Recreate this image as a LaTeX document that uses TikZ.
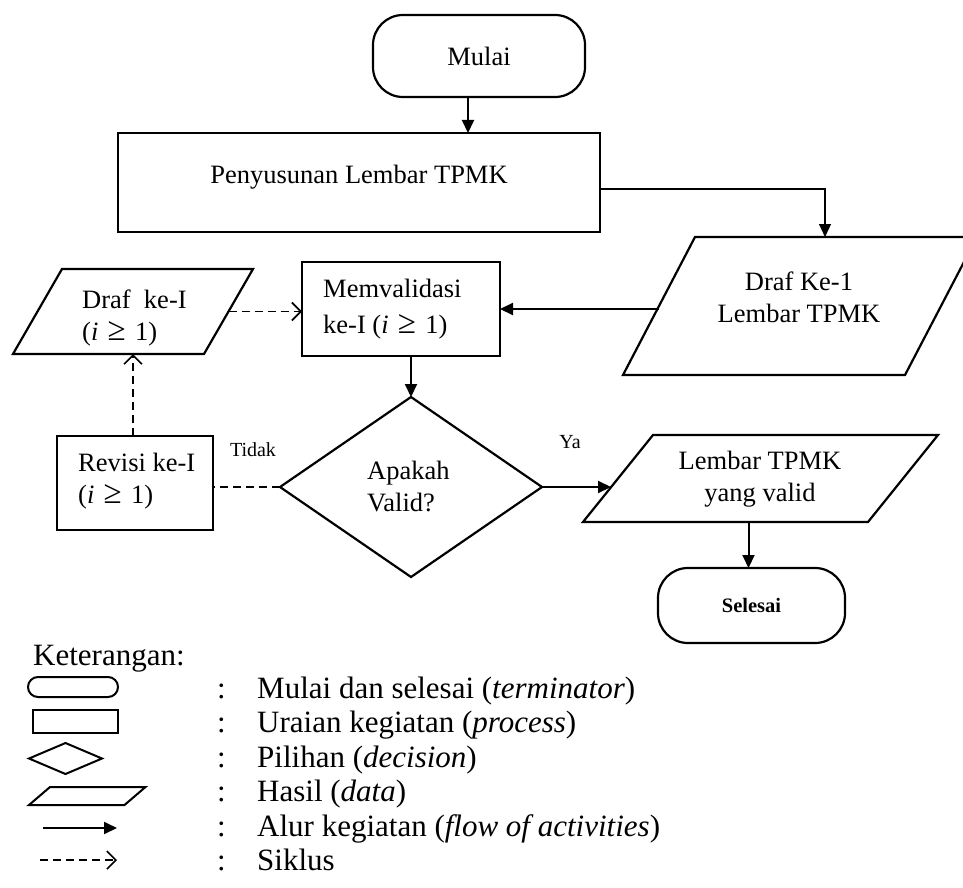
\documentclass[tikz,border=0pt]{standalone}
\usepackage{fontspec}
\setmainfont{Liberation Serif}
\usetikzlibrary{shapes.geometric,arrows.meta,calc}

% text sizes (1 unit = 1pt)
\newcommand\diagfont{\fontsize{26.5}{32}\selectfont}
\newcommand\legendfont{\fontsize{31}{35}\selectfont}
\newcommand\tagfont{\fontsize{20}{24}\selectfont}
% "(i >= 1)" with the wider spacing and larger relation sign of the equation font
\newcommand\atleastone{(\textit{i}\hspace{0.35em}{\fontsize{33}{33}\selectfont ≥}\hspace{0.35em}1)}

% slanted data box drawn around a helper rectangle node:
% #2 = node name, #3 = half of the horizontal slant
\newcommand\datashape[3][]{%
  \draw[shapeline,#1] ([xshift=-#3]#2.south west) -- ([xshift=-#3]#2.south east)
    -- ([xshift=#3]#2.north east) -- ([xshift=#3]#2.north west) -- cycle;}

\begin{document}
\begin{tikzpicture}[x=1pt,y=-1pt,
  shapeline/.style={line width=2.2pt, line join=miter},
  term/.style={draw, shapeline, rectangle, rounded corners=30pt, inner sep=0pt, outer sep=0pt},
  proc/.style={draw, shapeline, rectangle, inner sep=0pt, outer sep=0pt},
  dbox/.style={rectangle, inner sep=0pt, outer sep=0pt},
  decision/.style={draw, shapeline, diamond, inner sep=0pt, outer sep=0pt},
  txt/.style={inner sep=0pt, font=\diagfont, align=left},
  tag/.style={inner sep=0pt, font=\tagfont},
  keytxt/.style={inner sep=0pt, font=\legendfont, anchor=base west},
  flow/.style={line width=2pt, -{Triangle[length=13pt,width=12pt]}},
  cycleflow/.style={line width=1.6pt, dash pattern=on 8pt off 5pt},
  cyclearrow/.style={cycleflow, -{Straight Barb[length=9pt,width=18pt,line width=1.6pt]}},
]
\useasboundingbox[fill=white] (0,0) rectangle (963,888);
\clip (0,0) rectangle (963,888);

% ---- flowchart shapes ----
\node[term, minimum width=212pt, minimum height=82pt, font=\diagfont] (start) at (479,56) {Mulai};
\node[proc, minimum width=482pt, minimum height=99pt] (compose) at (359,182.5) {};
\node[txt] (composetext) at (359,177) {Penyusunan Lembar TPMK};

\node[dbox, minimum width=282pt, minimum height=138pt] (draftone) at (800,306) {};
\datashape{draftone}{36pt}
\node[txt, align=center] (draftonetext) at (799,297.5) {Draf Ke-1\\Lembar TPMK};

\node[proc, minimum width=198pt, minimum height=94pt] (validate) at (401,309) {};
\node[txt, anchor=west] (validatetext) at (323,309) {Memvalidasi\\[4pt]ke-I \atleastone};

\node[dbox, minimum width=191pt, minimum height=85pt] (draft) at (133,311.5) {};
\datashape{draft}{24.5pt}
\node[txt, anchor=west] (drafttext) at (82,318) {Draf\ \ ke-I\\\atleastone};

\node[decision, minimum width=262pt, minimum height=180pt] (check) at (411,487) {};
\node[txt, anchor=west] (checktext) at (367,486.5) {Apakah\\Valid?};

\node[proc, minimum width=156pt, minimum height=94pt] (revise) at (135,483) {};
\node[txt, anchor=west] (revisetext) at (78,481) {Revisi ke-I\\\atleastone};

\node[dbox, minimum width=285pt, minimum height=87pt] (valid) at (760.5,478.5) {};
\datashape{valid}{35pt}
\node[txt, align=center] (validtext) at (760,479) {Lembar TPMK\\yang valid};

\node[term, minimum width=187pt, minimum height=75pt, font=\fontsize{20.5}{24}\selectfont\bfseries] (finish) at (751.5,605.5) {Selesai};

\node[tag] (no) at (253,450) {Tidak};
\node[tag] (yes) at (570,442) {Ya};

% ---- main flow ----
\draw[flow] ([xshift=-11pt]start.south) -- ([xshift=-11pt]start.south |- compose.north);
\draw[flow, line width=1.2pt] ([yshift=-6.5pt]compose.east) -| ($(draftone.north)+(25,0)$);
\draw[flow] (draftone.west |- validate.east) -- (validate.east);
\draw[flow] (validate.south -| check.north) -- (check.north);
\draw[flow] (check.east) -- ($(check.east -| valid.west)+(-7,0)$);
\draw[flow] ([xshift=-3pt]valid.south -| finish.north) -- ([xshift=-3pt]finish.north);

% ---- revision cycle ----
\draw[cycleflow] (check.west) -- (check.west -| revise.east);
\draw[cyclearrow] (revise.north -| draft.south) -- (draft.south);
\draw[cyclearrow] (draft.east) -- (draft.east -| validate.west);

% ---- legend ----
\node[keytxt] (keyhead) at (33,665) {Keterangan:};
\node[draw, line width=2pt, rectangle, rounded corners=10pt, minimum width=90pt, minimum height=20pt, inner sep=0pt, outer sep=0pt] (keyterm) at (73,687) {};
\node[draw, line width=2pt, rectangle, minimum width=85pt, minimum height=23pt, inner sep=0pt, outer sep=0pt] (keyproc) at (75.5,721.5) {};
\node[draw, line width=2pt, diamond, minimum width=73pt, minimum height=31pt, inner sep=0pt, outer sep=0pt] (keydec) at (65.5,758.5) {};
\node[dbox, minimum width=95.5pt, minimum height=18pt] (keydata) at (87.25,796) {};
\datashape[line width=2pt]{keydata}{10.5pt}
\coordinate (keyflowa) at (43,828);
\coordinate (keyflowb) at (117,828);
\draw[flow] (keyflowa) -- (keyflowb);
\coordinate (keycyclea) at (40,860);
\coordinate (keycycleb) at (117,860);
\draw[cyclearrow] (keycyclea) -- (keycycleb);

\foreach \y/\t [count=\k] in {
  698/{Mulai dan selesai (\textit{terminator})},
  732.5/{Uraian kegiatan (\textit{process})},
  767/{Pilihan (\textit{decision})},
  801.5/{Hasil (\textit{data})},
  836/{Alur kegiatan (\textit{flow of activities})},
  870.5/{Siklus}}{
  \node[keytxt] (keycolon\k) at (217,\y) {:};
  \node[keytxt] (keytext\k) at (257,\y) {\t};
}
\end{tikzpicture}
\end{document}
